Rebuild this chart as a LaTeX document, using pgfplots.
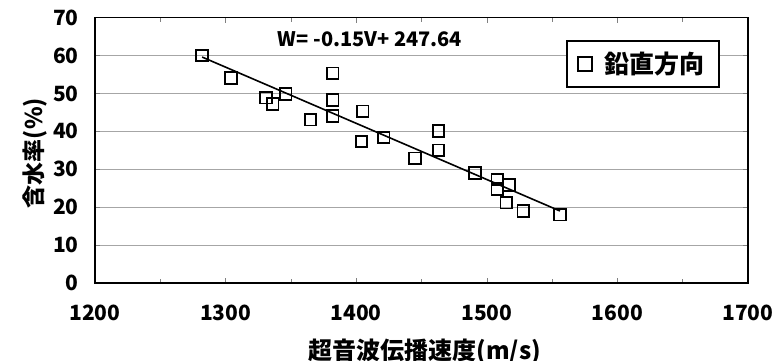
\documentclass[border=0pt]{standalone}
\usepackage{fontspec}
\setmainfont{Noto Sans CJK JP}
\usepackage{pgfplots}
\pgfplotsset{compat=1.18}
\begin{document}
\begin{tikzpicture}[font=\bfseries]
\useasboundingbox (-47.5pt,-38.5pt) rectangle (339pt,141.5pt);
\begin{axis}[
  at={(0,0)}, anchor=south west,
  scale only axis, width=326.5pt, height=132.7pt,
  xmin=1200, xmax=1700, ymin=0, ymax=70,
  xtick={1200,1300,...,1700}, minor x tick num=1,
  ytick={0,10,...,70},
  tick align=inside, major tick length=2.5pt, minor tick length=2pt,
  ymajorgrids, grid style={gray!70, line width=0.5pt},
  axis line style={line width=0.7pt},
  /pgf/number format/assume math mode=true,
  /pgf/number format/1000 sep={},
  tick label style={font=\bfseries\fontsize{10.5}{12}\selectfont},
  yticklabel style={anchor=east, inner sep=0pt, xshift=-8pt},
  xticklabel style={anchor=north, inner sep=0pt, yshift=-11pt},
  xlabel={超音波伝播速度(m/s)},
  ylabel={含水率(\%)},
  xlabel style={at={(axis description cs:0.505,0)}, anchor=north, inner sep=0pt, yshift=-28pt, font=\bfseries\fontsize{12}{13}\selectfont},
  ylabel style={at={(axis description cs:0,0.49)}, anchor=center, inner sep=0pt, yshift=30pt, font=\bfseries\fontsize{11.5}{13}\selectfont},
  legend style={at={(0.957,0.917)}, anchor=north east, draw=black, line width=1pt,
    font=\bfseries\fontsize{12.5}{14}\selectfont, inner xsep=5pt, inner ysep=3.5pt},
  legend image code/.code={\draw[line width=0.9pt, black] (-1pt,-3.6pt) rectangle (6.2pt,3.6pt); \path (10pt,0);},
]
\addplot[only marks, mark=square, mark size=2.9pt, mark options={line width=0.9pt, fill=white, draw=black}]
coordinates {
(1282,60.0) (1304,54.1) (1331,48.9) (1336,47.2) (1346,49.9) (1365,43.1)
(1382,55.3) (1382,48.3) (1382,44.1) (1405,45.3) (1404,37.3) (1421,38.4)
(1445,32.9) (1463,40.1) (1463,35.0) (1491,29.0) (1508,27.3) (1508,24.8)
(1517,25.9) (1515,21.2) (1528,19.0) (1556,18.0)
};
\addlegendentry{鉛直方向}
\addplot[black, line width=0.8pt, forget plot] coordinates {(1282,59.6) (1556,19.0)};
\node[font=\bfseries\fontsize{10}{12}\selectfont] at (axis cs:1410.6,64.2) {W= -0.15V+ 247.64};
\end{axis}
\end{tikzpicture}
\end{document}
